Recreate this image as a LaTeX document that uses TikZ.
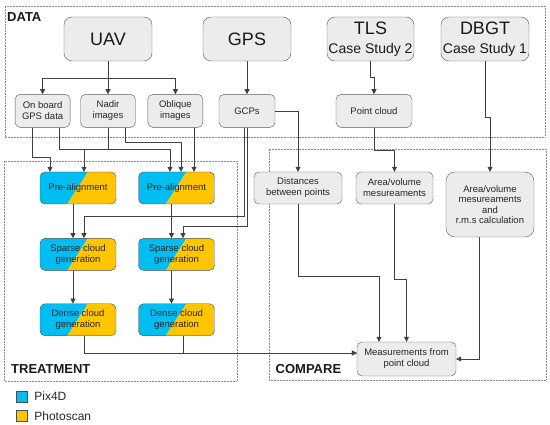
\documentclass[tikz,border=0pt]{standalone}
\usepackage{fontspec}
\setmainfont{Liberation Sans}
\usetikzlibrary{arrows.meta, positioning, calc}
\definecolor{pixblue}{RGB}{0,190,242}
\definecolor{photoorange}{RGB}{255,198,0}
\definecolor{boxgray}{RGB}{236,236,236}
\definecolor{linegray}{RGB}{64,64,64}

\begin{document}
\begin{tikzpicture}[x=1pt, y=-1pt,
  src/.style={draw=black!65, fill=boxgray, rounded corners=8pt, minimum width=88pt, minimum height=44pt, align=center, inner sep=1pt, text=black!90, font=\fontsize{18}{19}\selectfont},
  box/.style={draw=black!65, fill=boxgray, rounded corners=5pt, minimum width=55pt, minimum height=33pt, align=center, inner sep=1pt, text=black!85, font=\fontsize{9.5}{11}\selectfont},
  proc/.style={box, draw=black!70, fill=none, minimum width=76pt, minimum height=32pt,
    path picture={
      \coordinate (sw) at (path picture bounding box.south west);
      \coordinate (se) at (path picture bounding box.south east);
      \coordinate (nw) at (path picture bounding box.north west);
      \coordinate (ne) at (path picture bounding box.north east);
      \fill[pixblue, sharp corners] (sw) -- ($(sw)!0.36!(se)$) -- ($(nw)!0.63!(ne)$) -- (nw) -- cycle;
      \fill[photoorange, sharp corners] ($(sw)!0.36!(se)$) -- (se) -- (ne) -- ($(nw)!0.63!(ne)$) -- cycle;
    }},
  arrow/.style={-{Triangle[length=5pt,width=5pt]}, draw=linegray, line width=0.6pt},
  frame/.style={draw=black!45, densely dotted, line width=0.5pt},
  title/.style={anchor=west, inner sep=0pt, text=black!90, font=\fontsize{13}{13}\selectfont\bfseries},
  key/.style={draw=black!70, minimum size=11pt, inner sep=0pt},
  keytext/.style={inner sep=0pt, text=black!85, font=\fontsize{12}{12}\selectfont}
]
\useasboundingbox (0,0) rectangle (550,425);

% frames
\draw[frame] (5,6) rectangle (545,137);
\draw[frame] (4,161) rectangle (237,381);
\draw[frame] (269,149) rectangle (546,380);
\node[title] (datatitle) at (7,17.5) {DATA};
\node[title] (treattitle) at (11,369.5) {TREATMENT};
\node[title] (comptitle) at (275.5,369.5) {COMPARE};

% data sources
\node[src] (uav) at (108,39) {UAV};
\node[src] (gps) at (247,39) {GPS};
\node[src, minimum width=87pt] (tls) at (370.5,39) {TLS\\{\fontsize{14}{15}\selectfont Case Study 2}};
\node[src] (dbgt) at (485,39) {DBGT\\{\fontsize{14}{15}\selectfont Case Study 1}};

\node[box, below=33pt of uav] (nadir) {Nadir\\images};
\node[box, left=10pt of nadir] (onboard) {On board\\GPS data};
\node[box, right=12pt of nadir] (oblique) {Oblique\\images};
\node[box, minimum width=56pt, below=33pt of gps] (gcp) {GCPs};
\node[box, minimum width=76pt, below=33pt of tls, xshift=3.5pt] (pc) {Point cloud};

% treatment
\node[proc] (pa1) at (78,188) {Pre-alignment};
\node[proc, below=34pt of pa1] (sp1) {Sparse cloud\\generation};
\node[proc, below=33pt of sp1] (dn1) {Dense cloud\\generation};
\node[proc] (pa2) at (176.5,188) {Pre-alignment};
\node[proc, below=34pt of pa2] (sp2) {Sparse cloud\\generation};
\node[proc, below=33pt of sp2] (dn2) {Dense cloud\\generation};

% compare
\node[box, minimum width=88pt, minimum height=32pt] (dist) at (298,188) {Distances\\between points};
\node[box, minimum width=77pt, minimum height=32pt] (area) at (394.5,188) {Area/volume\\mesureaments};
\node[box, minimum width=88pt, minimum height=65pt, rounded corners=9pt, font=\fontsize{9.5}{10.5}\selectfont] (rms) at (490,204.5) {Area/volume\\mesureaments\\and\\r.m.s calculation};
\node[box, minimum width=99pt, minimum height=34pt] (meas) at (406.5,359) {Measurements from\\point cloud};

% legend
\node[key, fill=pixblue] (pixkey) at (21.5,396.5) {};
\node[keytext, right=7pt of pixkey] (pixtext) {Pix4D};
\node[key, fill=photoorange, below=8pt of pixkey] (photokey) {};
\node[keytext, right=7pt of photokey] (phototext) {Photoscan};

% connectors
\coordinate (uavsplit) at ($(uav.south)+(0,17)$);
\draw[arrow] (uav.south) -- (uavsplit) -| (onboard.north);
\draw[arrow] (uavsplit) -| (oblique.north);
\draw[arrow] (uav) -- (nadir);
\draw[arrow] (gps) -- (gcp);
\draw[arrow] (tls.south) -- ++(0,16) -| (pc.north);
\draw[arrow] (dbgt.south) -- ++(0,56) -| (rms.north);

\draw[arrow] ([xshift=-10.5pt]onboard.south) -- ++(0,30) -| ([xshift=-28pt]pa1.north);
\draw[arrow] ([xshift=16.5pt]onboard.south) -- ++(0,22) -| ([xshift=-6.5pt]pa2.north);
\draw[arrow] (nadir.south) -- ++(0,22) -| ([xshift=6pt]pa1.north);
\draw[arrow] ([xshift=17pt]nadir.south) -- ++(0,15) -| ([xshift=4.5pt]pa2.north);
\draw[arrow] ([xshift=17.5pt]pa2.north |- oblique.south) -- ([xshift=17.5pt]pa2.north);

\draw[arrow] ([xshift=-3pt]gcp.south) -- ++(0,89) -| ([xshift=6pt]sp1.north);
\draw[arrow] (gcp.south) -- ++(0,99) -| ([xshift=6.5pt]sp2.north);
\draw[arrow] (gcp.east) -| (dist.north);
\draw[arrow] (pc.south) -- ++(0,23) -| (area.north);

\draw[arrow] ([xshift=-5pt]pa1.south) -- ([xshift=-5pt]sp1.north);
\draw[arrow] ([xshift=-5pt]sp1.south) -- ([xshift=-5pt]dn1.north);
\draw[arrow] ([xshift=-5pt]pa2.south) -- ([xshift=-5pt]sp2.north);
\draw[arrow] ([xshift=-5pt]sp2.south) -- ([xshift=-5pt]dn2.north);

\draw[arrow] ([xshift=6pt]dn1.south) |- ([yshift=6pt]meas.west);
\draw[arrow] ([xshift=6.5pt]dn2.south) |- ([yshift=6pt]meas.west);
\draw[arrow] (dist.south) -- ++(0,72) -| ([xshift=-27.5pt]meas.north);
\draw[arrow] (area.south) -- ++(0,75) -| (meas.north);
\draw[arrow] ([xshift=-11pt]rms.south) |- (meas.east);
\end{tikzpicture}
\end{document}
